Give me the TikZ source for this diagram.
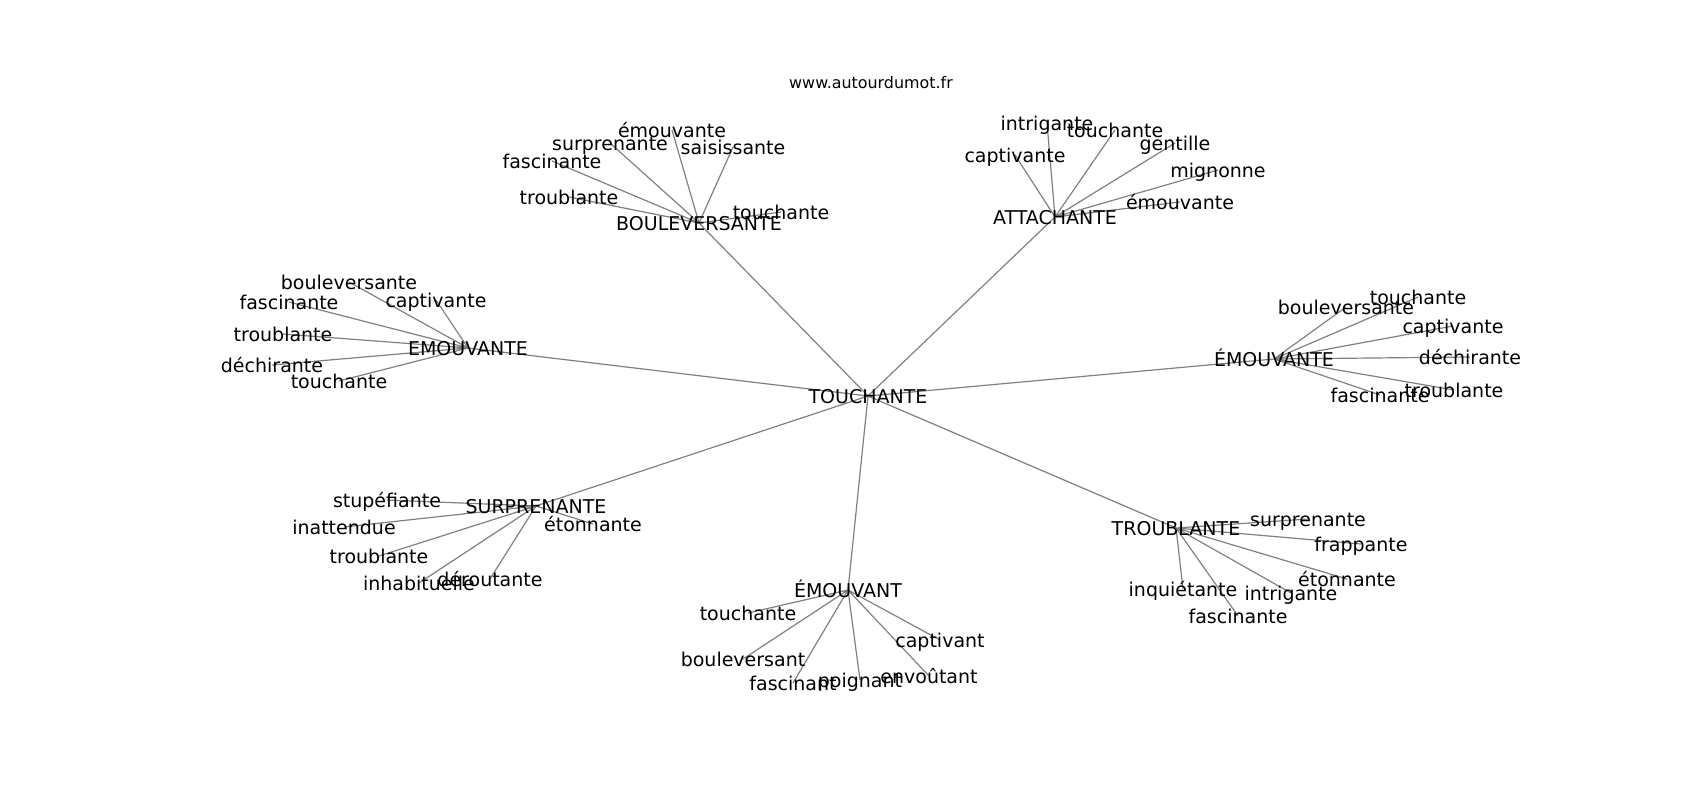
\documentclass[tikz,border=0pt]{standalone}
\usepackage{fontspec}
\setmainfont{DejaVu Sans}
\usetikzlibrary{backgrounds}

\begin{document}
\begin{tikzpicture}[x=1pt,y=-1pt]
	\tikzstyle{word}
	  =[inner sep=0pt, text height=15.4pt, text depth=1pt,
	  font=\fontsize{19}{23}\selectfont]
	\tikzstyle{edge}
	  =[draw=gray, line width=1.2pt]

	\useasboundingbox (0,0) rectangle (1700,800);

	\node[inner sep=0pt, font=\fontsize{15.9}{19}\selectfont] (site)
	  at (871,83) {www.autourdumot.fr};

	\node[word] (T)
	  at (868,396) {TOUCHANTE};
	\node[word] (B)
	  at (699,223) {BOULEVERSANTE};
	\node[word] (A)
	  at (1055,217) {ATTACHANTE};
	\node[word] (E1)
	  at (468,348) {EMOUVANTE};
	\node[word] (E2)
	  at (1274,359) {ÉMOUVANTE};
	\node[word] (S)
	  at (536,506) {SURPRENANTE};
	\node[word] (E3)
	  at (848,590) {ÉMOUVANT};
	\node[word] (R)
	  at (1176,528) {TROUBLANTE};

	\node[word] (b1)
	  at (672,130) {émouvante};
	\node[word] (b2)
	  at (610,143) {surprenante};
	\node[word] (b3)
	  at (733,147) {saisissante};
	\node[word] (b4)
	  at (552,161) {fascinante};
	\node[word] (b5)
	  at (569,197) {troublante};
	\node[word] (b6)
	  at (781,212) {touchante};

	\node[word] (a1)
	  at (1047,123) {intrigante};
	\node[word] (a2)
	  at (1115,130) {touchante};
	\node[word] (a3)
	  at (1175,143) {gentille};
	\node[word] (a4)
	  at (1015,155) {captivante};
	\node[word] (a5)
	  at (1218,170) {mignonne};
	\node[word] (a6)
	  at (1180,202) {émouvante};

	\node[word] (e11)
	  at (349,282) {bouleversante};
	\node[word] (e12)
	  at (436,300) {captivante};
	\node[word] (e13)
	  at (289,302) {fascinante};
	\node[word] (e14)
	  at (283,334) {troublante};
	\node[word] (e15)
	  at (272,365) {déchirante};
	\node[word] (e16)
	  at (339,381) {touchante};

	\node[word] (e21)
	  at (1418,297) {touchante};
	\node[word] (e22)
	  at (1346,307) {bouleversante};
	\node[word] (e23)
	  at (1453,326) {captivante};
	\node[word] (e24)
	  at (1470,357) {déchirante};
	\node[word] (e25)
	  at (1454,390) {troublante};
	\node[word] (e26)
	  at (1380,395) {fascinante};

	\node[word] (s1)
	  at (387,500) {stupéfiante};
	\node[word] (s2)
	  at (344,527) {inattendue};
	\node[word] (s3)
	  at (593,524) {étonnante};
	\node[word] (s4)
	  at (379,556) {troublante};
	\node[word] (s5)
	  at (419,583) {inhabituelle};
	\node[word] (s6)
	  at (490,579) {déroutante};

	\node[word] (e31)
	  at (748,613) {touchante};
	\node[word] (e32)
	  at (743,659) {bouleversant};
	\node[word] (e33)
	  at (793,683) {fascinant};
	\node[word] (e34)
	  at (860,680) {poignant};
	\node[word] (e35)
	  at (940,640) {captivant};
	\node[word] (e36)
	  at (929,676) {envoûtant};

	\node[word] (r1)
	  at (1308,519) {surprenante};
	\node[word] (r2)
	  at (1361,544) {frappante};
	\node[word] (r3)
	  at (1347,579) {étonnante};
	\node[word] (r4)
	  at (1183,589) {inquiétante};
	\node[word] (r5)
	  at (1291,593) {intrigante};
	\node[word] (r6)
	  at (1238,616) {fascinante};

	\begin{scope}[on background layer]
	\draw[edge] (T.center) -- (B.center) (T.center) -- (A.center)
	  (T.center) -- (E1.center) (T.center) -- (E2.center)
	  (T.center) -- (S.center) (T.center) -- (E3.center)
	  (T.center) -- (R.center);
	\draw[edge] (B.center) -- (b1.center) (B.center) -- (b2.center)
	  (B.center) -- (b3.center) (B.center) -- (b4.center)
	  (B.center) -- (b5.center) (B.center) -- (b6.center);
	\draw[edge] (A.center) -- (a1.center) (A.center) -- (a2.center)
	  (A.center) -- (a3.center) (A.center) -- (a4.center)
	  (A.center) -- (a5.center) (A.center) -- (a6.center);
	\draw[edge] (E1.center) -- (e11.center) (E1.center) -- (e12.center)
	  (E1.center) -- (e13.center) (E1.center) -- (e14.center)
	  (E1.center) -- (e15.center) (E1.center) -- (e16.center);
	\draw[edge] (E2.center) -- (e21.center) (E2.center) -- (e22.center)
	  (E2.center) -- (e23.center) (E2.center) -- (e24.center)
	  (E2.center) -- (e25.center) (E2.center) -- (e26.center);
	\draw[edge] (S.center) -- (s1.center) (S.center) -- (s2.center)
	  (S.center) -- (s3.center) (S.center) -- (s4.center)
	  (S.center) -- (s5.center) (S.center) -- (s6.center);
	\draw[edge] (E3.center) -- (e31.center) (E3.center) -- (e32.center)
	  (E3.center) -- (e33.center) (E3.center) -- (e34.center)
	  (E3.center) -- (e35.center) (E3.center) -- (e36.center);
	\draw[edge] (R.center) -- (r1.center) (R.center) -- (r2.center)
	  (R.center) -- (r3.center) (R.center) -- (r4.center)
	  (R.center) -- (r5.center) (R.center) -- (r6.center);
	\end{scope}
\end{tikzpicture}
\end{document}
